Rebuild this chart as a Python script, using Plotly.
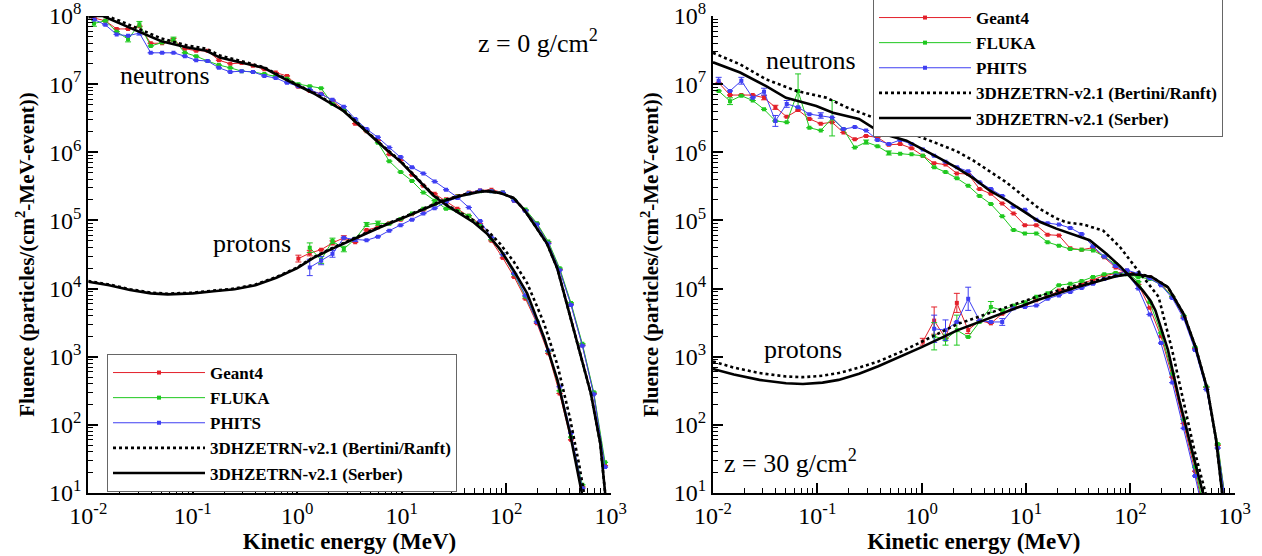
import plotly.graph_objects as go

# ---------------- data ----------------
# Monte-Carlo energy bin centres (MeV), 46 log bins from 0.01 to 1000 MeV
E_MC = [0.011332, 0.014555, 0.018695, 0.024013, 0.030844, 0.039618, 0.050887, 0.065363,
        0.083956, 0.10784, 0.13851, 0.17783, 0.22842, 0.29339, 0.37685, 0.48405,
        0.62175, 0.79862, 1.0253, 1.3170, 1.6916, 2.1728, 2.7908, 3.5846, 4.6043,
        5.9140, 7.5964, 9.7528, 12.529, 16.093, 20.671, 26.551, 34.104, 43.805,
        56.234, 72.230, 92.776, 119.17, 153.06, 196.61, 252.54, 324.38, 416.66,
        535.18, 687.42, 882.97]

# ---- z = 0 g/cm2 (left) : log10 fluence ----
# neutrons: bins 0..43
L_N_GEANT4 = [7.97, 7.93, 7.81, 7.81, 7.85, 7.60, 7.60, 7.65, 7.52, 7.49,
              7.49, 7.35, 7.30, 7.31, 7.27, 7.22, 7.17, 7.12,
              6.96, 6.90, 6.86, 6.76, 6.62, 6.42, 6.31, 6.17, 5.97, 5.88,
              5.67, 5.51, 5.39, 5.28, 5.17, 5.07, 4.95, 4.70, 4.45, 4.17,
              3.85, 3.49, 3.05, 2.46, 1.78, 1.09]
L_N_FLUKA = [7.89, 7.93, 7.77, 7.66, 7.88, 7.56, 7.61, 7.66, 7.46, 7.41,
             7.34, 7.28, 7.24, 7.19, 7.18, 7.15, 7.12, 7.08,
             7.00, 6.97, 6.94, 6.71, 6.62, 6.47, 6.32, 6.14, 5.87, 5.71,
             5.58, 5.41, 5.29, 5.17, 5.14, 5.07, 4.92, 4.72, 4.50, 4.21,
             3.88, 3.52, 3.08, 2.50, 1.82, 1.12]
L_N_PHITS = [7.95, 7.87, 7.73, 7.71, 7.75, 7.46, 7.46, 7.46, 7.41, 7.35,
             7.34, 7.24, 7.18, 7.19, 7.18, 7.12, 7.09, 7.02,
             6.97, 6.92, 6.85, 6.77, 6.67, 6.49, 6.34, 6.22, 6.07, 5.93,
             5.78, 5.69, 5.57, 5.45, 5.34, 5.19, 4.99, 4.75, 4.50, 4.22,
             3.90, 3.51, 3.09, 2.56, 1.88, 1.07]
# protons: Geant4 bins 18..45, FLUKA/PHITS bins 19..45
L_P_GEANT4 = [4.44, 4.52, 4.57, 4.67, 4.745, 4.68, 4.86, 4.90, 4.96, 5.01, 5.09, 5.155,
              5.24, 5.31, 5.36, 5.41, 5.44, 5.45, 5.41,
              5.29, 5.145, 4.95, 4.67, 4.28, 3.77, 3.17, 2.46, 1.40]
L_P_FLUKA = [4.60, 4.42, 4.70, 4.58, 4.73, 4.94, 4.96, 4.95, 5.02, 5.10, 5.17,
             5.24, 5.30, 5.35, 5.40, 5.43, 5.43, 5.41,
             5.30, 5.16, 4.96, 4.69, 4.30, 3.79, 3.19, 2.48, 1.45]
L_P_PHITS = [4.31, 4.41, 4.51, 4.745, 4.72, 4.71, 4.76, 4.85, 4.93, 5.01, 5.10,
             5.18, 5.27, 5.33, 5.40, 5.44, 5.43, 5.41,
             5.29, 5.14, 4.94, 4.66, 4.27, 3.76, 3.16, 2.45, 1.38]
# error bars (bin index -> half width in decades)
L_N_GEANT4_ERR = {7: 0.02}
L_N_FLUKA_ERR = {0: 0.04, 3: 0.04, 4: 0.04, 7: 0.03}
L_N_PHITS_ERR = {4: 0.03}
L_P_GEANT4_ERR = {18: 0.05, 19: 0.04, 21: 0.03, 22: 0.03}
L_P_FLUKA_ERR = {19: 0.07, 20: 0.05, 21: 0.04, 22: 0.04, 24: 0.03, 25: 0.03}
L_P_PHITS_ERR = {19: 0.12, 20: 0.06, 21: 0.05, 23: 0.03}

# 3DHZETRN curves, left (log10 E, log10 fluence)
L_N_SERBER_LOGE = [-2.0, -1.93, -1.86, -1.7, -1.5, -1.3, -1.06, -0.87, -0.74, -0.55, -0.32, -0.1,
                   0.15, 0.44, 0.63, 0.83, 0.99, 1.15, 1.30, 1.43, 1.56, 1.69, 1.82, 1.94, 2.07,
                   2.20, 2.36, 2.49, 2.61, 2.70, 2.73]
L_N_SERBER_LOGF = [7.98, 8.0, 8.0, 7.89, 7.76, 7.63, 7.54, 7.49, 7.39, 7.32, 7.24, 7.06,
                   6.87, 6.61, 6.34, 6.07, 5.86, 5.60, 5.37, 5.22, 5.10, 4.97, 4.80, 4.58, 4.27,
                   3.93, 3.29, 2.66, 1.88, 1.20, 0.95]
L_N_BERTINI_LOGE = [-2.0, -1.93, -1.86, -1.7, -1.5, -1.3, -1.06, -0.87, -0.74, -0.55, -0.32, -0.1,
                    0.15, 0.44, 0.63, 0.83, 0.99, 1.15, 1.30, 1.43, 1.56, 1.69, 1.82, 1.94, 2.07,
                    2.20, 2.36, 2.49, 2.61, 2.70, 2.75]
L_N_BERTINI_LOGF = [8.0, 8.02, 8.02, 7.93, 7.80, 7.67, 7.57, 7.52, 7.42, 7.34, 7.25, 7.07,
                    6.88, 6.62, 6.35, 6.08, 5.87, 5.61, 5.38, 5.23, 5.12, 5.0, 4.85, 4.66, 4.40,
                    4.08, 3.50, 2.88, 2.10, 1.40, 0.95]
L_P_SERBER_LOGE = [-2.0, -1.8, -1.6, -1.4, -1.24, -1.0, -0.8, -0.6, -0.4, -0.2, 0.0, 0.155, 0.3,
                   0.475, 0.794, 1.113, 1.37, 1.56, 1.75, 1.83, 1.95, 2.07, 2.17, 2.26, 2.39,
                   2.49, 2.58, 2.69, 2.81, 2.90, 2.95]
L_P_SERBER_LOGF = [4.10, 4.05, 3.98, 3.93, 3.915, 3.93, 3.96, 3.99, 4.05, 4.16, 4.30, 4.45, 4.56,
                   4.68, 4.90, 5.10, 5.27, 5.36, 5.42, 5.43, 5.40, 5.33, 5.16, 4.96, 4.66,
                   4.29, 3.78, 3.14, 2.46, 1.73, 0.95]
L_P_BERTINI_LOGE = L_P_SERBER_LOGE
L_P_BERTINI_LOGF = [4.11, 4.06, 3.99, 3.94, 3.925, 3.94, 3.97, 4.0, 4.06, 4.17, 4.31, 4.46, 4.57,
                    4.69, 4.91, 5.11, 5.28, 5.37, 5.43, 5.43, 5.40, 5.33, 5.16, 4.96, 4.66,
                    4.29, 3.78, 3.14, 2.46, 1.73, 0.95]

# ---- z = 30 g/cm2 (right) ----
R_N_GEANT4 = [7.02, 6.84, 6.84, 6.84, 6.80, 6.66, 6.52, 6.62, 6.49, 6.42, 6.44, 6.29,
              6.19, 6.24, 6.22, 6.11, 6.12, 6.06, 5.95, 5.84, 5.82, 5.69,
              5.68, 5.46, 5.39, 5.25, 5.10, 4.93, 4.93, 4.79, 4.78, 4.59, 4.57,
              4.60, 4.46, 4.31, 4.22, 4.06, 3.72, 3.30, 2.70, 2.02, 1.32, 0.55]
R_N_FLUKA = [6.90, 6.75, 6.83, 6.76, 6.63, 6.46, 6.44, 6.90, 6.36, 6.32, 6.50, 6.34,
             6.07, 6.15, 6.09, 5.99, 5.98, 5.97, 5.95, 5.78, 5.71, 5.62,
             5.51, 5.36, 5.24, 5.06, 4.86, 4.81, 4.81, 4.68, 4.63, 4.58, 4.57,
             4.56, 4.47, 4.36, 4.24, 4.10, 3.80, 3.35, 2.75, 2.08, 1.38, 0.60]
R_N_PHITS = [7.05, 6.90, 7.05, 6.80, 6.89, 6.46, 6.71, 6.66, 6.56, 6.54, 6.51, 6.34,
             6.37, 6.32, 6.18, 6.12, 6.18, 6.12, 6.04, 5.95, 5.86, 5.78,
             5.72, 5.56, 5.46, 5.36, 5.20, 5.155, 5.01, 4.96, 4.94, 4.89, 4.80,
             4.62, 4.47, 4.33, 4.22, 4.00, 3.62, 3.20, 2.62, 1.95, 1.25, 0.50]
R_P_GEANT4 = [3.22, 3.53, 3.27, 3.79, 3.39, 3.53, 3.49, 3.63, 3.73, 3.75, 3.83, 3.88, 3.97,
              4.00, 4.07, 4.13, 4.19, 4.22, 4.26,
              4.20, 4.17, 4.07, 3.88, 3.58, 3.12, 2.55, 1.70, 0.50]
R_P_FLUKA = [3.30, 3.25, 3.39, 3.29, 3.51, 3.73, 3.68, 3.75, 3.80, 3.88, 3.93, 4.05,
             4.07, 4.11, 4.17, 4.21, 4.23, 4.21,
             4.17, 4.14, 4.06, 3.88, 3.60, 3.14, 2.56, 1.72, 0.50]
R_P_PHITS = [3.41, 3.39, 3.51, 3.85, 3.53, 3.51, 3.51, 3.71, 3.73, 3.75, 3.85, 3.90,
             3.95, 4.01, 4.07, 4.14, 4.19, 4.27,
             4.22, 4.15, 4.05, 3.86, 3.56, 3.10, 2.52, 1.66, 0.50]
R_N_GEANT4_ERR = {4: 0.03, 5: 0.03}
R_N_FLUKA_ERR = {1: 0.05, 7: 0.25, 10: 0.26, 13: 0.03, 15: 0.03}
R_N_PHITS_ERR = {0: 0.05, 2: 0.05, 4: 0.05, 5: 0.08, 6: 0.05, 9: 0.04}
R_P_GEANT4_ERR = {18: 0.05, 19: 0.2, 21: 0.14, 22: 0.05}
R_P_FLUKA_ERR = {19: 0.2, 20: 0.08, 21: 0.22, 24: 0.08}
R_P_PHITS_ERR = {19: 0.2, 20: 0.15, 22: 0.17, 25: 0.05}

R_N_SERBER_LOGE = [-2.0, -1.74, -1.49, -1.30, -1.105, -1.01, -0.85, -0.6, -0.465, -0.3, -0.145,
                   0.02, 0.174, 0.33, 0.494, 0.65, 0.81, 0.97, 1.13, 1.29, 1.45, 1.61, 1.77,
                   1.90, 2.03, 2.12, 2.19, 2.24, 2.36, 2.47, 2.59, 2.70, 2.72]
R_N_SERBER_LOGF = [7.32, 7.17, 6.97, 6.80, 6.72, 6.68, 6.58, 6.49, 6.36, 6.24, 6.17,
                   6.04, 5.91, 5.78, 5.62, 5.44, 5.30, 5.14, 4.98, 4.88, 4.79, 4.71, 4.51,
                   4.33, 4.12, 3.97, 3.83, 3.68, 3.10, 2.36, 1.63, 1.0, 0.85]
R_N_BERTINI_LOGE = [-2.0, -1.74, -1.49, -1.2, -0.91, -0.72, -0.465, -0.21, 0.046, 0.33, 0.494,
                    0.81, 1.13, 1.29, 1.39, 1.55, 1.74, 1.90, 2.055, 2.15, 2.27, 2.40, 2.50,
                    2.61, 2.72, 2.74]
R_N_BERTINI_LOGF = [7.46, 7.29, 7.07, 6.90, 6.80, 6.66, 6.51, 6.34, 6.19, 6.02, 5.88,
                    5.56, 5.17, 5.03, 4.97, 4.94, 4.85, 4.61, 4.30, 4.12, 3.88, 3.10, 2.40,
                    1.65, 1.0, 0.8]
R_P_SERBER_LOGE = [-2.0, -1.8, -1.555, -1.3, -1.138, -0.95, -0.796, -0.6, -0.416, -0.2, 0.0,
                   0.345, 0.724, 1.104, 1.484, 1.864, 2.0, 2.1, 2.205, 2.36, 2.51, 2.625,
                   2.74, 2.82, 2.88, 2.90]
R_P_SERBER_LOGF = [2.82, 2.74, 2.66, 2.61, 2.60, 2.62, 2.66, 2.75, 2.86, 3.0, 3.14,
                   3.39, 3.61, 3.83, 4.02, 4.18, 4.21, 4.20, 4.17, 4.02, 3.63, 3.14,
                   2.51, 1.80, 1.0, 0.7]
R_P_BERTINI_LOGE = R_P_SERBER_LOGE
R_P_BERTINI_LOGF = [2.93, 2.84, 2.76, 2.71, 2.70, 2.72, 2.76, 2.84, 2.93, 3.07, 3.22,
                    3.48, 3.68, 3.88, 4.05, 4.19, 4.22, 4.21, 4.17, 4.02, 3.63, 3.14,
                    2.51, 1.80, 1.0, 0.7]

X_TICKS = [0.01, 0.1, 1, 10, 100, 1000]
X_TICK_TEXT = ["10<sup>-2</sup>", "10<sup>-1</sup>", "10<sup>0</sup>", "10<sup>1</sup>",
               "10<sup>2</sup>", "10<sup>3</sup>"]
Y_TICKS = [1e1, 1e2, 1e3, 1e4, 1e5, 1e6, 1e7, 1e8]
Y_TICK_TEXT = ["10<sup>1</sup>", "10<sup>2</sup>", "10<sup>3</sup>", "10<sup>4</sup>",
               "10<sup>5</sup>", "10<sup>6</sup>", "10<sup>7</sup>", "10<sup>8</sup>"]

NAMES = ["Geant4", "FLUKA", "PHITS",
         "3DHZETRN-v2.1 (Bertini/Ranft)", "3DHZETRN-v2.1 (Serber)"]
COLORS = ["#e3202a", "#1fc81f", "#3f3ff2"]

# ---------------- helpers ----------------
def mc_series(n_vals, n_start, n_err, p_vals, p_start, p_err):
    xs, ys, up, dn = [], [], [], []
    for seg, (vals, start, err) in enumerate([(n_vals, n_start, n_err), (p_vals, p_start, p_err)]):
        if seg:
            xs.append(None); ys.append(None); up.append(None); dn.append(None)
        for i, v in enumerate(vals):
            k = start + i
            f = 10 ** v
            xs.append(E_MC[k]); ys.append(f)
            d = err.get(k)
            if d:
                up.append(f * (10 ** d - 1)); dn.append(f * (1 - 10 ** -d))
            else:
                up.append(None); dn.append(None)
    return xs, ys, up, dn


def curve(loge_n, logf_n, loge_p, logf_p):
    xs = [10 ** v for v in loge_n] + [None] + [10 ** v for v in loge_p]
    ys = [10 ** v for v in logf_n] + [None] + [10 ** v for v in logf_p]
    return xs, ys


FONT = "Liberation Serif"
fig = go.Figure()

panels = [
    dict(xa="x", ya="y", leg="legend",
         mc=[(L_N_GEANT4, L_N_GEANT4_ERR, L_P_GEANT4, 18, L_P_GEANT4_ERR),
             (L_N_FLUKA, L_N_FLUKA_ERR, L_P_FLUKA, 19, L_P_FLUKA_ERR),
             (L_N_PHITS, L_N_PHITS_ERR, L_P_PHITS, 19, L_P_PHITS_ERR)],
         bert=(L_N_BERTINI_LOGE, L_N_BERTINI_LOGF, L_P_BERTINI_LOGE, L_P_BERTINI_LOGF),
         serb=(L_N_SERBER_LOGE, L_N_SERBER_LOGF, L_P_SERBER_LOGE, L_P_SERBER_LOGF)),
    dict(xa="x2", ya="y2", leg="legend2",
         mc=[(R_N_GEANT4, R_N_GEANT4_ERR, R_P_GEANT4, 18, R_P_GEANT4_ERR),
             (R_N_FLUKA, R_N_FLUKA_ERR, R_P_FLUKA, 19, R_P_FLUKA_ERR),
             (R_N_PHITS, R_N_PHITS_ERR, R_P_PHITS, 19, R_P_PHITS_ERR)],
         bert=(R_N_BERTINI_LOGE, R_N_BERTINI_LOGF, R_P_BERTINI_LOGE, R_P_BERTINI_LOGF),
         serb=(R_N_SERBER_LOGE, R_N_SERBER_LOGF, R_P_SERBER_LOGE, R_P_SERBER_LOGF)),
]

for p in panels:
    for j, (nv, ne, pv, ps, pe) in enumerate(p["mc"]):
        xs, ys, up, dn = mc_series(nv, 0, ne, pv, ps, pe)
        fig.add_trace(go.Scatter(
            x=xs, y=ys, mode="lines+markers", name="<b>%s</b>" % NAMES[j],
            xaxis=p["xa"], yaxis=p["ya"], legend=p["leg"],
            line=dict(color=COLORS[j], width=1),
            marker=dict(symbol="square", size=4, color=COLORS[j]),
            error_y=dict(type="data", symmetric=False, array=up, arrayminus=dn,
                         color=COLORS[j], thickness=1, width=3)))
    xs, ys = curve(*p["bert"])
    fig.add_trace(go.Scatter(x=xs, y=ys, mode="lines", name="<b>%s</b>" % NAMES[3],
                             xaxis=p["xa"], yaxis=p["ya"], legend=p["leg"],
                             line=dict(color="black", width=2.6, dash="dot")))
    xs, ys = curve(*p["serb"])
    fig.add_trace(go.Scatter(x=xs, y=ys, mode="lines", name="<b>%s</b>" % NAMES[4],
                             xaxis=p["xa"], yaxis=p["ya"], legend=p["leg"],
                             line=dict(color="black", width=2.6)))

minor_x = [m * 10 ** e for e in range(-2, 3) for m in range(2, 10)]
minor_y = [m * 10 ** e for e in range(1, 8) for m in range(2, 10)]

axis_common = dict(type="log", showgrid=False, zeroline=False, showline=True,
                   linecolor="black", linewidth=2, ticks="inside", ticklen=10,
                   tickwidth=2, tickcolor="black", mirror=False, automargin=False,
                   ticklabeloverflow="allow",
                   tickfont=dict(family=FONT, size=24, color="black"))

xt = dict(text="<b>Kinetic energy (MeV)</b>", font=dict(family=FONT, size=23, color="black"),
          standoff=2)
yt = dict(text="<b>Fluence (particles/(cm<sup>2</sup>-MeV-event))</b>",
          font=dict(family=FONT, size=21, color="black"), standoff=9)

xminor = dict(tickmode="array", tickvals=minor_x, ticks="inside", ticklen=5, tickwidth=1,
              tickcolor="black", showgrid=False)
yminor = dict(tickmode="array", tickvals=minor_y, ticks="inside", ticklen=5, tickwidth=1,
              tickcolor="black", showgrid=False)

W, H = 1262, 556
legend_common = dict(xanchor="left", yanchor="top", bgcolor="white", bordercolor="#666666",
                     borderwidth=1, itemwidth=92, tracegroupgap=0,
                     font=dict(family=FONT, size=17, color="black"))
fig.update_layout(
    width=W, height=H, margin=dict(l=0, r=0, t=16, b=63, autoexpand=False),
    paper_bgcolor="white", plot_bgcolor="white",
    font=dict(family=FONT, color="black"),
    xaxis=dict(axis_common, domain=[88.3 / W, 610.7 / W], range=[-2, 3], anchor="y",
               tickmode="array", tickvals=X_TICKS, ticktext=X_TICK_TEXT, minor=xminor, title=xt),
    yaxis=dict(axis_common, domain=[0, 1], range=[1, 8], anchor="x",
               tickmode="array", tickvals=Y_TICKS, ticktext=Y_TICK_TEXT, minor=yminor, title=yt),
    xaxis2=dict(axis_common, domain=[713 / W, 1234.7 / W], range=[-2, 3], anchor="y2",
                tickmode="array", tickvals=X_TICKS, ticktext=X_TICK_TEXT, minor=xminor, title=xt),
    yaxis2=dict(axis_common, domain=[0, 1], range=[1, 8], anchor="x2",
                tickmode="array", tickvals=Y_TICKS, ticktext=Y_TICK_TEXT, minor=yminor, title=yt),
    legend=dict(legend_common, x=107 / W, y=(493 - 354) / 477),
    legend2=dict(legend_common, x=873 / W, y=(493 + 1) / 477),
)

ann_font = dict(family=FONT, size=26, color="black")
annotations = [
    dict(text="neutrons", x=-1.27, y=7.12, xref="x", yref="y"),
    dict(text="protons", x=-0.43, y=4.66, xref="x", yref="y"),
    dict(text="z = 0 g/cm<sup>2</sup>", x=2.30, y=7.63, xref="x", yref="y"),
    dict(text="neutrons", x=-1.06, y=7.34, xref="x2", yref="y2"),
    dict(text="protons", x=-1.14, y=3.10, xref="x2", yref="y2"),
    dict(text="z = 30 g/cm<sup>2</sup>", x=-1.26, y=1.46, xref="x2", yref="y2"),
]
for a in annotations:
    fig.add_annotation(**a, showarrow=False, font=ann_font)

fig.write_html("out.html", config={"displayModeBar": False},
               post_script="document.body.style.margin='0';")
